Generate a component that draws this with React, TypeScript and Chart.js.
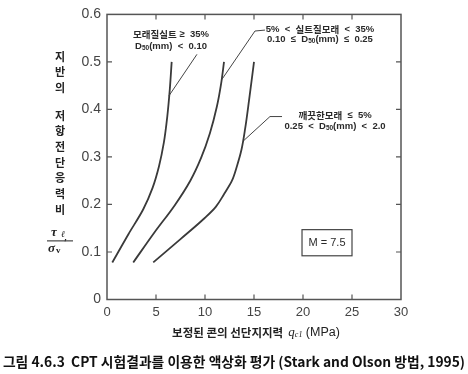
import React, { useEffect, useRef } from "react";
import { Chart, registerables } from "chart.js";

Chart.register(...registerables);

// ---- data ----
const curve1Q = [0.54, 2.2, 3.7, 4.65, 5.3, 5.8, 6.15, 6.4, 6.6];
const curve1R = [0.078, 0.138, 0.19, 0.235, 0.28, 0.33, 0.385, 0.44, 0.5];

const curve2Q = [2.68, 4.8, 6.9, 8.5, 9.6, 10.5, 11.2, 11.65, 11.94];
const curve2R = [0.078, 0.14, 0.198, 0.25, 0.298, 0.35, 0.405, 0.455, 0.5];

const curve3Q = [4.72, 7.5, 10.0, 11.1, 11.95, 12.75, 13.25, 13.72, 14.1, 14.5, 15.0];
const curve3R = [0.078, 0.127, 0.172, 0.195, 0.222, 0.25, 0.28, 0.315, 0.36, 0.42, 0.5];

const xTicks = [0, 5, 10, 15, 20, 25, 30];
const yTicks = [0, 0.1, 0.2, 0.3, 0.4, 0.5, 0.6];

const yTitleTop = ["지", "반", "의"];
const yTitleBottom = ["저", "항", "전", "단", "응", "력", "비"];
const xTitleKo = "보정된 콘의 선단지지력";
const caption = "그림 4.6.3  CPT 시험결과를 이용한 액상화 평가 (Stark and Olson 방법, 1995)";
const magnitudeLabel = "M = 7.5";

const KO = '"Noto Sans CJK KR", "Noto Sans", sans-serif';
const SANS = '"Liberation Sans", Arial, sans-serif';
const SERIF = '"Liberation Serif", "DejaVu Serif", serif';

const LINE = "#3a3a3a";

export default function App() {
  const ref = useRef<HTMLCanvasElement>(null);

  useEffect(() => {
    document.body.style.margin = "0";
    const canvas = ref.current!;
    const mk = (q: number[], r: number[]) => q.map((x, i) => ({ x, y: r[i] }));

    type Run = { t: string; font: string; dy?: number };
    const drawRuns = (ctx: CanvasRenderingContext2D, runs: Run[], cx: number, cy: number) => {
      let total = 0;
      runs.forEach((r) => {
        ctx.font = r.font;
        total += ctx.measureText(r.t).width;
      });
      let x = cx - total / 2;
      runs.forEach((r) => {
        ctx.font = r.font;
        ctx.fillText(r.t, x, cy + (r.dy || 0));
        x += ctx.measureText(r.t).width;
      });
    };

    const decor = {
      id: "decor",
      afterDraw(chart: any) {
        const ctx: CanvasRenderingContext2D = chart.ctx;
        const { left, right, top, bottom } = chart.chartArea;
        const xs = chart.scales.x;
        const ys = chart.scales.y;
        const px = (v: number) => xs.getPixelForValue(v);
        const py = (v: number) => ys.getPixelForValue(v);
        ctx.save();
        // frame
        ctx.strokeStyle = "#555";
        ctx.lineWidth = 1.5;
        ctx.strokeRect(left, top, right - left, bottom - top);
        // inward ticks
        ctx.lineWidth = 1.2;
        ctx.beginPath();
        xTicks.slice(1, -1).forEach((v) => {
          const x = px(v);
          ctx.moveTo(x, bottom);
          ctx.lineTo(x, bottom - 5);
          ctx.moveTo(x, top);
          ctx.lineTo(x, top + 5);
        });
        yTicks.slice(1, -1).forEach((v) => {
          const y = py(v);
          ctx.moveTo(left, y);
          ctx.lineTo(left + 5, y);
          ctx.moveTo(right, y);
          ctx.lineTo(right - 5, y);
        });
        ctx.stroke();

        // leader lines
        ctx.strokeStyle = "#444";
        ctx.lineWidth = 1;
        ctx.beginPath();
        ctx.moveTo(px(9.18), py(0.516));
        ctx.lineTo(px(6.3), py(0.428));
        ctx.moveTo(px(16.12), py(0.567));
        ctx.lineTo(px(15.1), py(0.565));
        ctx.lineTo(px(11.72), py(0.463));
        ctx.moveTo(px(17.86), py(0.385));
        ctx.lineTo(px(16.63), py(0.385));
        ctx.lineTo(px(13.98), py(0.335));
        ctx.stroke();

        // annotation texts
        ctx.fillStyle = "#2a2a2a";
        ctx.textBaseline = "middle";
        ctx.textAlign = "left";
        const fk = `bold 9.5px ${KO}`;
        const fs = `bold 9.5px ${SANS}`;
        const fsub = `bold 6.5px ${SANS}`;
        drawRuns(ctx, [{ t: "모래질실트", font: fk }, { t: " ≥  35%", font: fs }], px(6.53), py(0.558));
        drawRuns(ctx, [{ t: "D", font: fs }, { t: "50", font: fsub, dy: 2 }, { t: "(mm)  <  0.10", font: fs }], px(6.53), py(0.533));
        drawRuns(ctx, [{ t: "5%  <  ", font: fs }, { t: "실트질모래", font: fk }, { t: "  <  35%", font: fs }], px(21.73), py(0.568));
        drawRuns(ctx, [{ t: "0.10  ≤  D", font: fs }, { t: "50", font: fsub, dy: 2 }, { t: "(mm)  ≤  0.25", font: fs }], px(21.73), py(0.547));
        drawRuns(ctx, [{ t: "깨끗한모래", font: fk }, { t: "  ≤  5%", font: fs }], px(23.27), py(0.387));
        drawRuns(ctx, [{ t: "0.25  <  D", font: fs }, { t: "50", font: fsub, dy: 2 }, { t: "(mm)  <  2.0", font: fs }], px(23.27), py(0.364));

        // M box
        ctx.strokeStyle = "#444";
        ctx.lineWidth = 1.2;
        ctx.strokeRect(px(19.9), py(0.147), px(25.0) - px(19.9), py(0.092) - py(0.147));
        ctx.font = `11px ${SANS}`;
        ctx.textAlign = "center";
        ctx.fillText(magnitudeLabel, px(22.45), py(0.12));

        // y title
        ctx.fillStyle = "#222";
        ctx.font = `bold 11px ${KO}`;
        const tx = left - 47;
        yTitleTop.forEach((c, i) => ctx.fillText(c, tx, top + 42 + i * 15.5));
        yTitleBottom.forEach((c, i) => ctx.fillText(c, tx, top + 101 + i * 15.7));
        // fraction
        ctx.font = `italic bold 13px ${SERIF}`;
        ctx.textAlign = "left";
        ctx.fillText("τ", tx - 9, top + 218);
        ctx.font = `italic bold 9px ${SERIF}`;
        ctx.fillText("ℓ", tx + 1, top + 220);
        ctx.strokeStyle = "#222";
        ctx.lineWidth = 1;
        ctx.beginPath();
        ctx.moveTo(tx - 13, top + 226.5);
        ctx.lineTo(tx + 13, top + 226.5);
        ctx.stroke();
        ctx.font = `italic bold 13px ${SERIF}`;
        ctx.fillText("σ", tx - 12, top + 234.5);
        ctx.font = `bold 9px ${SERIF}`;
        ctx.fillText("v", tx - 4, top + 236.5);
        ctx.font = `bold 11px ${SERIF}`;
        ctx.fillText("′", tx + 4, top + 229);

        // x title
        ctx.textAlign = "left";
        drawRuns(
          ctx,
          [
            { t: xTitleKo + "  ", font: `bold 11.5px ${KO}` },
            { t: "q", font: `italic 13px ${SERIF}` },
            { t: "c1", font: `italic 8px ${SERIF}`, dy: 2 },
            { t: " (MPa)", font: `12.5px ${SANS}` },
          ],
          (left + right) / 2 + 2,
          bottom + 33
        );

        // caption
        ctx.fillStyle = "#111";
        drawRuns(ctx, [{ t: caption, font: `bold 13.8px ${KO}` }], chart.width / 2, bottom + 62);
        ctx.restore();
      },
    };

    const ds = (q: number[], r: number[]) => ({
      data: mk(q, r),
      showLine: true,
      borderColor: LINE,
      borderWidth: 1.8,
      pointRadius: 0,
      cubicInterpolationMode: "monotone" as const,
      fill: false,
    });

    const chart = new Chart(canvas, {
      type: "scatter",
      data: { datasets: [ds(curve1Q, curve1R), ds(curve2Q, curve2R), ds(curve3Q, curve3R)] },
      options: {
        indexAxis: "y",
        responsive: false,
        animation: false,
        layout: { padding: { top: 8.5, right: 67, left: 0, bottom: 0 } },
        plugins: { legend: { display: false }, tooltip: { enabled: false } },
        scales: {
          x: {
            type: "linear",
            position: "bottom",
            min: 0,
            max: 30,
            afterBuildTicks: (s: any) => {
              s.ticks = xTicks.map((v) => ({ value: v }));
            },
            afterFit: (s: any) => {
              s.height = 74.5;
            },
            grid: { display: false, drawTicks: false },
            border: { display: false },
            ticks: { padding: 5, color: "#444", maxRotation: 0, font: { family: SANS, size: 13 } },
          },
          y: {
            type: "linear",
            position: "left",
            min: 0,
            max: 0.6,
            afterBuildTicks: (s: any) => {
              s.ticks = yTicks.map((v) => ({ value: v }));
            },
            afterFit: (s: any) => {
              s.width = 107;
            },
            grid: { display: false, drawTicks: false },
            border: { display: false },
            ticks: {
              padding: 6,
              color: "#444",
              font: { family: SANS, size: 14 },
              callback: (v: any) => (v === 0 ? "0" : Number(v).toFixed(1)),
            },
          },
        },
      } as any,
      plugins: [decor],
    });
    return () => chart.destroy();
  }, []);

  return <canvas ref={ref} width={468} height={374} style={{ display: "block" }} />;
}
